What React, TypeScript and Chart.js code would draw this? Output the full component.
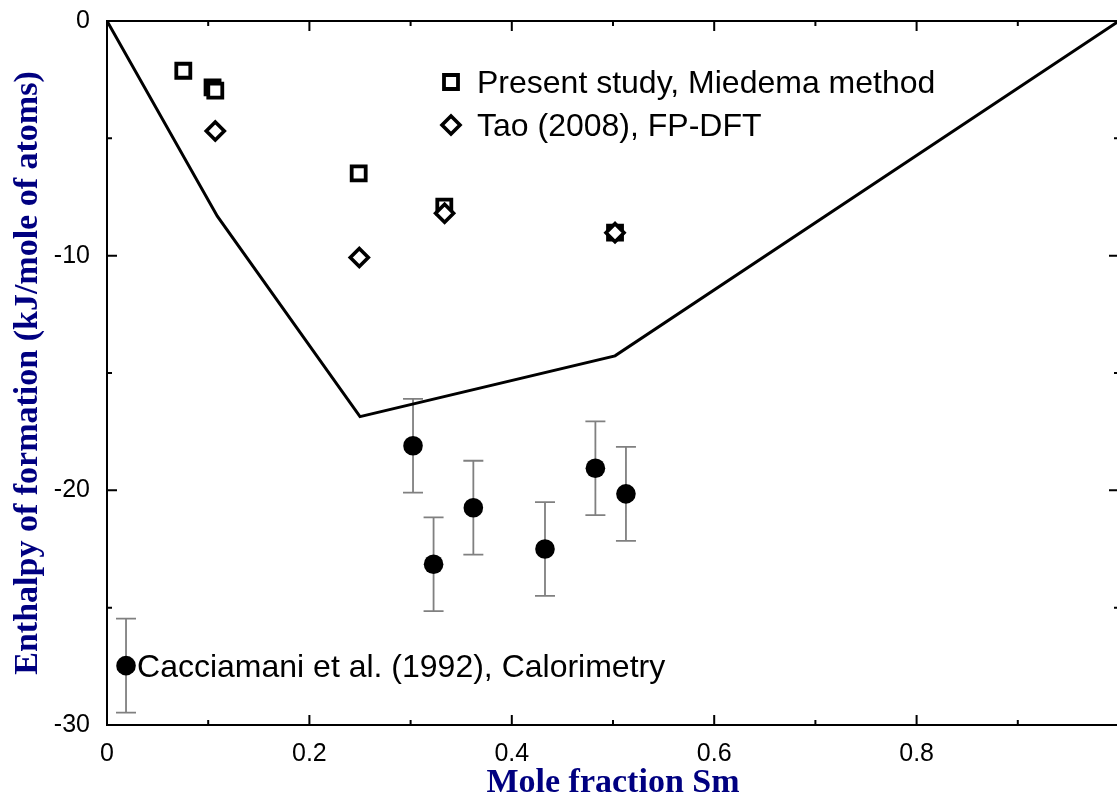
import React, { useEffect, useRef } from "react";
import { Chart, registerables } from "chart.js";

Chart.register(...registerables);

// Reference curve (solid line)
const curveX = [0, 0.109, 0.25, 0.502, 1.0];
const curveY = [0, -8.32, -16.86, -14.27, 0];

// Present study, Miedema method (open squares)
const miedemaX = [0.0754, 0.1043, 0.107, 0.2487, 0.3333, 0.502];
const miedemaY = [-2.12, -2.83, -2.97, -6.49, -7.91, -9.02];

// Tao (2008), FP-DFT (open diamonds)
const taoX = [0.107, 0.2493, 0.3336, 0.502];
const taoY = [-4.69, -10.08, -8.19, -9.02];

// Cacciamani et al. (1992), Calorimetry (filled circles with error bars)
const calX = [0.0188, 0.3024, 0.3227, 0.362, 0.4328, 0.4826, 0.5128];
const calY = [-27.47, -18.1, -23.15, -20.74, -22.5, -19.06, -20.15];
const calErr = [2, 2, 2, 2, 2, 2, 2];

const xTickLabels = [0, 0.2, 0.4, 0.6, 0.8];
const xMajorTicks = [0, 0.2, 0.4, 0.6, 0.8, 1.0];
const xMinorTicks = [0.1, 0.3, 0.5, 0.7, 0.9];
const yTickLabels = [0, -10, -20, -30];
const yMinorTicks = [-5, -15, -25];

const legendLabels = [
  "Present study, Miedema method",
  "Tao (2008), FP-DFT",
  "Cacciamani et al. (1992), Calorimetry",
];
const xTitle = "Mole fraction Sm";
const yTitle = "Enthalpy of formation (kJ/mole of atoms)";

const SANS = '"Liberation Sans", Arial, sans-serif';
const SERIF = '"Liberation Serif", "Times New Roman", serif';
const NAVY = "#000080";

const toPts = (xs: number[], ys: number[]) => xs.map((v, i) => ({ x: v, y: ys[i] }));

const zeroPad = (s: any) => {
  s.paddingTop = 0;
  s.paddingBottom = 0;
  s.paddingLeft = 0;
  s.paddingRight = 0;
};

const errorBars = {
  id: "errorBars",
  beforeDatasetsDraw(chart: any) {
    const { ctx, scales } = chart;
    const x = scales.x;
    const y = scales.y;
    ctx.save();
    ctx.strokeStyle = "#808080";
    ctx.lineWidth = 1.8;
    ctx.beginPath();
    calX.forEach((v, i) => {
      const px = x.getPixelForValue(v);
      const top = y.getPixelForValue(calY[i] + calErr[i]);
      const bot = y.getPixelForValue(calY[i] - calErr[i]);
      ctx.moveTo(px, top);
      ctx.lineTo(px, bot);
      ctx.moveTo(px - 10, top);
      ctx.lineTo(px + 10, top);
      ctx.moveTo(px - 10, bot);
      ctx.lineTo(px + 10, bot);
    });
    ctx.stroke();
    ctx.restore();
  },
};

const frameTicks = {
  id: "frameTicks",
  afterDatasetsDraw(chart: any) {
    const { ctx, chartArea: a, scales } = chart;
    const x = scales.x;
    const y = scales.y;
    ctx.save();
    ctx.strokeStyle = "#000";
    ctx.lineWidth = 2;
    ctx.strokeRect(a.left, a.top, a.right - a.left, a.bottom - a.top);
    ctx.beginPath();
    const tx = (v: number, len: number) => {
      const p = x.getPixelForValue(v);
      ctx.moveTo(p, a.bottom);
      ctx.lineTo(p, a.bottom - len);
      ctx.moveTo(p, a.top);
      ctx.lineTo(p, a.top + len);
    };
    const ty = (v: number, len: number) => {
      const p = y.getPixelForValue(v);
      ctx.moveTo(a.left, p);
      ctx.lineTo(a.left + len, p);
      ctx.moveTo(a.right, p);
      ctx.lineTo(a.right - len, p);
    };
    xMajorTicks.forEach((v) => tx(v, 10));
    xMinorTicks.forEach((v) => tx(v, 5));
    yTickLabels.forEach((v) => ty(v, 10));
    yMinorTicks.forEach((v) => ty(v, 5));
    ctx.stroke();
    ctx.restore();
  },
};

const legendText = {
  id: "legendText",
  afterDraw(chart: any) {
    const { ctx, chartArea: a, scales } = chart;
    ctx.save();
    ctx.font = `32px ${SANS}`;
    ctx.textBaseline = "middle";
    ctx.textAlign = "left";
    const mx = a.left + 344;
    const sy = a.top + 61;
    const dy = a.top + 104;
    ctx.strokeStyle = "#000";
    ctx.lineWidth = 3.8;
    ctx.fillStyle = "#fff";
    ctx.beginPath();
    ctx.rect(mx - 7, sy - 7, 14, 14);
    ctx.fill();
    ctx.stroke();
    ctx.lineWidth = 3.6;
    ctx.beginPath();
    ctx.moveTo(mx - 9, dy);
    ctx.lineTo(mx, dy - 9);
    ctx.lineTo(mx + 9, dy);
    ctx.lineTo(mx, dy + 9);
    ctx.closePath();
    ctx.fill();
    ctx.stroke();
    ctx.fillStyle = "#000";
    ctx.fillText(legendLabels[0], mx + 26, sy + 2);
    ctx.fillText(legendLabels[1], mx + 26, dy + 2);
    const cx = scales.x.getPixelForValue(calX[0]);
    const cy = scales.y.getPixelForValue(calY[0]);
    ctx.fillText(legendLabels[2], cx + 11, cy + 3);
    ctx.restore();
  },
};

export default function App() {
  const ref = useRef<HTMLCanvasElement>(null);
  useEffect(() => {
    const chart = new Chart(ref.current as HTMLCanvasElement, {
      type: "scatter",
      data: {
        datasets: [
          {
            label: "curve",
            data: toPts(curveX, curveY),
            showLine: true,
            borderColor: "#000",
            borderWidth: 3,
            pointRadius: 0,
            tension: 0,
            order: 4,
          } as any,
          {
            label: legendLabels[2],
            data: toPts(calX, calY),
            pointStyle: "circle",
            pointRadius: 9.8,
            backgroundColor: "#000",
            borderColor: "#000",
            borderWidth: 0,
            order: 3,
          },
          {
            label: legendLabels[0],
            data: toPts(miedemaX, miedemaY),
            pointStyle: "rect",
            pointRadius: 9.9,
            backgroundColor: "#fff",
            borderColor: "#000",
            borderWidth: 3.8,
            order: 2,
          },
          {
            label: legendLabels[1],
            data: toPts(taoX, taoY),
            pointStyle: "rectRot",
            pointRadius: 9,
            backgroundColor: "#fff",
            borderColor: "#000",
            borderWidth: 3.6,
            order: 1,
          },
        ],
      },
      options: {
        responsive: false,
        animation: false,
        layout: { autoPadding: false, padding: { top: 21, right: 3, left: 0, bottom: 0 } },
        plugins: { legend: { display: false }, tooltip: { enabled: false } },
        scales: {
          x: {
            type: "linear",
            min: 0,
            max: 1,
            afterBuildTicks: (s: any) => {
              s.ticks = xTickLabels.map((v) => ({ value: v }));
            },
            afterFit: (s: any) => {
              s.height = 71;
              zeroPad(s);
            },
            grid: { display: false },
            border: { display: false },
            ticks: {
              color: "#000",
              font: { family: SANS, size: 25 },
              padding: 6,
              maxRotation: 0,
              autoSkip: false,
              callback: (v: any) => String(v),
            },
            title: {
              display: true,
              text: xTitle,
              color: NAVY,
              font: { family: SERIF, size: 34, weight: "bold", lineHeight: 1 },
              padding: { top: 0, bottom: -4 },
            },
          },
          y: {
            type: "linear",
            min: -30,
            max: 0,
            afterBuildTicks: (s: any) => {
              s.ticks = yTickLabels.map((v) => ({ value: v }));
            },
            afterFit: (s: any) => {
              s.width = 107;
              zeroPad(s);
            },
            grid: { display: false },
            border: { display: false },
            ticks: {
              color: "#000",
              font: { family: SANS, size: 25 },
              padding: 9,
              autoSkip: false,
              callback: (v: any) => String(v),
            },
            title: {
              display: true,
              text: yTitle,
              color: NAVY,
              font: { family: SERIF, size: 34, weight: "bold", lineHeight: 1 },
              padding: { top: 11, bottom: 0 },
            },
          },
        },
      },
      plugins: [errorBars, frameTicks, legendText],
    });
    return () => chart.destroy();
  }, []);
  return (
    <div
      style={{
        position: "fixed",
        left: 0,
        top: 0,
        width: 1117,
        height: 796,
        overflow: "hidden",
        background: "#fff",
      }}
    >
      <canvas ref={ref} width={1122} height={796} style={{ display: "block" }} />
    </div>
  );
}
